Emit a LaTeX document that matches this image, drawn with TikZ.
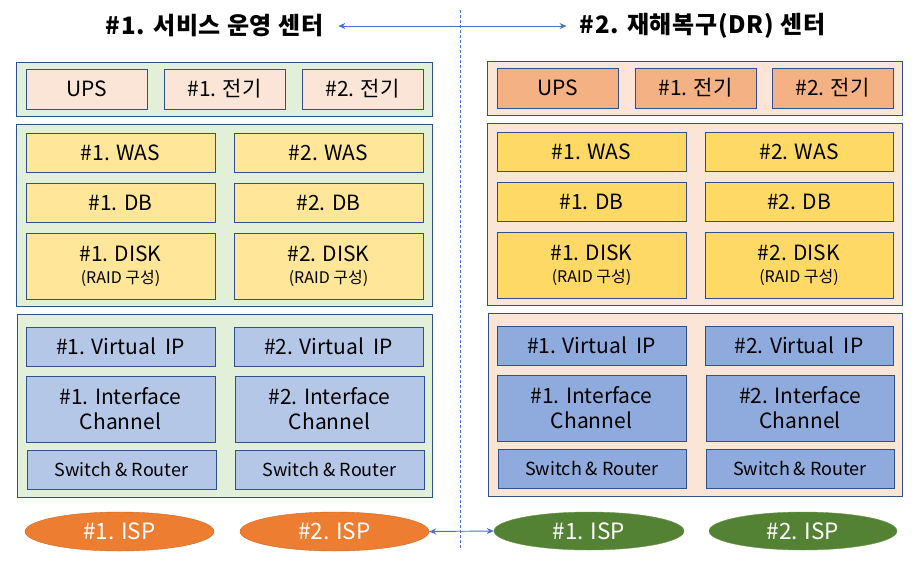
\documentclass[tikz,border=0pt]{standalone}
\usepackage{fontspec}
\setmainfont{Noto Sans CJK KR}
\usetikzlibrary{arrows.meta,shapes.geometric}
\definecolor{bordercol}{HTML}{2F528F}
\definecolor{lgreen}{HTML}{E2F0D9}
\definecolor{peach}{HTML}{FBE5D6}
\definecolor{salmon}{HTML}{F4B183}
\definecolor{lyellow}{HTML}{FFE699}
\definecolor{dyellow}{HTML}{FFD966}
\definecolor{lblue}{HTML}{B4C7E7}
\definecolor{dblue}{HTML}{8FAADC}
\definecolor{ispor}{HTML}{ED7D31}
\definecolor{ispgr}{HTML}{548235}
\definecolor{arrowcol}{HTML}{4472C4}
\tikzset{
  panel/.style={draw=bordercol, line width=0.9pt, rectangle, inner sep=0pt},
  box/.style={draw=bordercol, line width=0.9pt, rectangle, inner sep=0pt, align=center,
    font=\fontsize{21}{25}\selectfont},
  smallbox/.style={box, font=\fontsize{18}{20}\selectfont},
  isp/.style={ellipse, inner sep=0pt, text=white, font=\fontsize{22.5}{24}\selectfont},
  title/.style={inner sep=0pt, font=\fontsize{24}{28}\selectfont\bfseries\addfontfeature{LetterSpace=3}},
  link/.style={draw=arrowcol, line width=0.9pt, {Stealth[length=7pt,width=6pt]}-{Stealth[length=7pt,width=6pt]}},
}
\newcommand{\raidtxt}{\\[-3pt]{\fontsize{16}{16}\selectfont (RAID 구성)}}
\begin{document}
\begin{tikzpicture}[x=1pt,y=-1pt]
\useasboundingbox (0,0) rectangle (918,571);

% titles
\node[title] (t1) at (214.5,26) {\#1. 서비스 운영 센터};
\node[title] (t2) at (702.5,26) {\#2. 재해복구(DR) 센터};

% divider
\coordinate (dtop) at (460,10);
\coordinate (dbot) at (460,548);
\draw[arrowcol, line width=0.8pt, dashed, dash pattern=on 3pt off 2pt] (dtop) -- (dbot);

% ===== left center =====
\node[panel, fill=lgreen, minimum width=416, minimum height=54] (Lpow) at (224,89) {};
\node[box, fill=peach, minimum width=121, minimum height=40] (Lups) at (86.5,89) {UPS};
\node[box, fill=peach, minimum width=121, minimum height=40] (Le1) at (224.5,89) {\#1. 전기};
\node[box, fill=peach, minimum width=121, minimum height=40] (Le2) at (362.5,89) {\#2. 전기};

\node[panel, fill=lgreen, minimum width=416, minimum height=182] (Lsrv) at (224,215) {};
\node[box, fill=lyellow, minimum width=189, minimum height=39] (Lwas1) at (120.5,152.5) {\#1. WAS};
\node[box, fill=lyellow, minimum width=189, minimum height=39] (Lwas2) at (328.5,152.5) {\#2. WAS};
\node[box, fill=lyellow, minimum width=189, minimum height=39] (Ldb1) at (120.5,202.5) {\#1. DB};
\node[box, fill=lyellow, minimum width=189, minimum height=39] (Ldb2) at (328.5,202.5) {\#2. DB};
\node[box, fill=lyellow, minimum width=189, minimum height=66] (Ldk1) at (120.5,266) {\#1. DISK\raidtxt};
\node[box, fill=lyellow, minimum width=189, minimum height=66] (Ldk2) at (328.5,266) {\#2. DISK\raidtxt};

\node[panel, fill=lgreen, minimum width=415, minimum height=183] (Lnet) at (224.5,405.5) {};
\node[box, fill=lblue, minimum width=189, minimum height=39] (Lvip1) at (120.5,346.5) {\#1. Virtual~ IP};
\node[box, fill=lblue, minimum width=189, minimum height=39] (Lvip2) at (328.5,346.5) {\#2. Virtual~ IP};
\node[box, fill=lblue, minimum width=189, minimum height=66] (Lic1) at (120.5,409) {\#1. Interface\\Channel};
\node[box, fill=lblue, minimum width=189, minimum height=66] (Lic2) at (329.5,409) {\#2. Interface\\Channel};
\node[smallbox, fill=lblue, minimum width=189, minimum height=39] (Lsr1) at (121.5,469.5) {Switch \& Router};
\node[smallbox, fill=lblue, minimum width=189, minimum height=39] (Lsr2) at (329.5,469.5) {Switch \& Router};

\node[isp, fill=ispor, draw=ispor!85!black, line width=0.4pt, minimum width=189, minimum height=39] (Lisp1) at (119.5,531.5) {\#1. ISP};
\node[isp, fill=ispor, draw=ispor!85!black, line width=0.4pt, minimum width=189, minimum height=39] (Lisp2) at (334.5,531.5) {\#2. ISP};

% ===== right center =====
\node[panel, fill=peach, minimum width=415, minimum height=54] (Rpow) at (694.5,88) {};
\node[box, fill=salmon, minimum width=121, minimum height=40] (Rups) at (557.5,88) {UPS};
\node[box, fill=salmon, minimum width=121, minimum height=40] (Re1) at (695.5,88) {\#1. 전기};
\node[box, fill=salmon, minimum width=121, minimum height=40] (Re2) at (832.5,88) {\#2. 전기};

\node[panel, fill=peach, minimum width=415, minimum height=182] (Rsrv) at (694.5,214) {};
\node[box, fill=dyellow, minimum width=189, minimum height=39] (Rwas1) at (591.5,151.5) {\#1. WAS};
\node[box, fill=dyellow, minimum width=188, minimum height=39] (Rwas2) at (799,151.5) {\#2. WAS};
\node[box, fill=dyellow, minimum width=189, minimum height=39] (Rdb1) at (591.5,201.5) {\#1. DB};
\node[box, fill=dyellow, minimum width=188, minimum height=39] (Rdb2) at (799,201.5) {\#2. DB};
\node[box, fill=dyellow, minimum width=189, minimum height=66] (Rdk1) at (591.5,265) {\#1. DISK\raidtxt};
\node[box, fill=dyellow, minimum width=188, minimum height=66] (Rdk2) at (799,265) {\#2. DISK\raidtxt};

\node[panel, fill=peach, minimum width=414, minimum height=183] (Rnet) at (695,404.5) {};
\node[box, fill=dblue, minimum width=189, minimum height=39] (Rvip1) at (591.5,345.5) {\#1. Virtual~ IP};
\node[box, fill=dblue, minimum width=188, minimum height=39] (Rvip2) at (799,345.5) {\#2. Virtual~ IP};
\node[box, fill=dblue, minimum width=189, minimum height=66] (Ric1) at (591.5,408) {\#1. Interface\\Channel};
\node[box, fill=dblue, minimum width=188, minimum height=66] (Ric2) at (800,408) {\#2. Interface\\Channel};
\node[smallbox, fill=dblue, minimum width=188, minimum height=39] (Rsr1) at (592,468.5) {Switch \& Router};
\node[smallbox, fill=dblue, minimum width=188, minimum height=39] (Rsr2) at (800,468.5) {Switch \& Router};

\node[isp, fill=ispgr, draw=ispgr!85!white, line width=0.4pt, minimum width=190, minimum height=38] (Risp1) at (589,531) {\#1. ISP};
\node[isp, fill=ispgr, draw=ispgr!85!white, line width=0.4pt, minimum width=188, minimum height=38] (Risp2) at (803,531) {\#2. ISP};

% links
\draw[link, shorten <=15pt, shorten >=13pt] (t1.east) -- (t2.west);
\draw[link] (Lisp2.east) -- (Risp1.west);
\end{tikzpicture}
\end{document}
